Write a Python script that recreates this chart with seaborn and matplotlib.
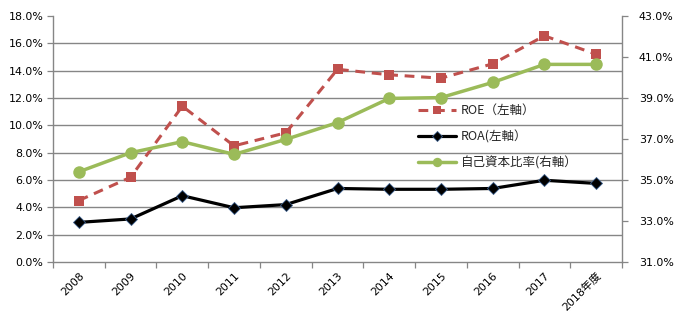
import matplotlib
matplotlib.use("Agg")
import matplotlib.pyplot as plt
import matplotlib.ticker as mticker
import seaborn as sns
import pandas as pd
import numpy as np

years = ["2008", "2009", "2010", "2011", "2012", "2013", "2014", "2015", "2016", "2017", "2018年度"]
roe = [4.5, 6.2, 11.4, 8.5, 9.45, 14.1, 13.7, 13.45, 14.5, 16.55, 15.2]
roa = [2.9, 3.15, 4.85, 3.97, 4.2, 5.38, 5.32, 5.32, 5.38, 5.98, 5.75]
equity = [35.4, 36.33, 36.87, 36.25, 36.98, 37.8, 38.98, 39.02, 39.76, 40.64, 40.64]
left_ticks = [0, 2, 4, 6, 8, 10, 12, 14, 16, 18]
right_ticks = [31, 33, 35, 37, 39, 41, 43]
labels = ["ROE（左軸）", "ROA(左軸）", "自己資本比率(右軸）"]

sns.set_theme(style="white")
plt.rcParams['font.family'] = ['DejaVu Sans', 'Noto Sans CJK JP']

df = pd.DataFrame({"pos": np.arange(len(years)), "roe": roe, "roa": roa, "equity": equity})

fig = plt.figure(figsize=(6.94, 3.30), dpi=100)
ax = fig.add_axes([53/694, 1-262/330, (622-53)/694, (262-16)/330])
ax2 = ax.twinx()

gray = "#868686"
tick_fs = 7.9

sns.lineplot(data=df, x="pos", y="roe", ax=ax, color="#C0504D", linewidth=2.2,
             linestyle=(0, (3.2, 2.2)), marker="s", markersize=7, markeredgewidth=0,
             label=labels[0], zorder=3)
sns.lineplot(data=df, x="pos", y="roa", ax=ax, color="black", linewidth=2.3,
             marker="D", markersize=6.5, markeredgecolor="#3B5E8C", markeredgewidth=0.6,
             label=labels[1], zorder=3)
sns.lineplot(data=df, x="pos", y="equity", ax=ax2, color="#9BBB59", linewidth=2.5,
             marker="o", markersize=9, markeredgewidth=0,
             label=labels[2], zorder=3)

ax.set_xlim(-0.5, len(years) - 0.5)
ax.set_ylim(0, 18)
ax2.set_ylim(31, 43)

ax.set_yticks(left_ticks)
ax.yaxis.set_major_formatter(mticker.FuncFormatter(lambda v, p: f"{v:.1f}%"))
ax2.set_yticks(right_ticks)
ax2.yaxis.set_major_formatter(mticker.FuncFormatter(lambda v, p: f"{v:.1f}%"))

# x ticks: boundaries as major ticks, labels at category centers
ax.set_xticks(np.arange(-0.5, len(years), 1.0))
ax.set_xticklabels([])
ax.set_xticks(np.arange(len(years)), minor=True)
ax.set_xticklabels(years, minor=True, rotation=45, ha="right", rotation_mode="anchor",
                   fontsize=tick_fs, color="#000000",
                   fontfamily=['DejaVu Sans', 'Noto Sans CJK JP'])
ax.tick_params(axis="x", which="major", direction="out", length=4, color=gray, width=0.9, bottom=True)
ax.tick_params(axis="x", which="minor", length=0, pad=6)
ax.tick_params(axis="y", direction="out", length=4, color=gray, width=0.9, left=True,
               labelsize=tick_fs, labelcolor="#000000", pad=3)
ax2.tick_params(axis="y", direction="out", length=4, color=gray, width=0.9, right=True,
                labelsize=tick_fs, labelcolor="#000000", pad=8)

# gridlines
for v in left_ticks[1:-1]:
    ax.axhline(v, color=gray, linewidth=1.0, zorder=0)
ax.set_axisbelow(True)

for a in (ax, ax2):
    a.set_xlabel("")
    a.set_ylabel("")
    a.spines["top"].set_visible(False)
    for s in ("left", "right", "bottom"):
        a.spines[s].set_color(gray)
        a.spines[s].set_linewidth(1.0)
ax.spines["right"].set_visible(False)
ax2.spines["left"].set_visible(False)
ax2.spines["bottom"].set_visible(False)

h1, l1 = ax.get_legend_handles_labels()
h2, l2 = ax2.get_legend_handles_labels()
if ax.get_legend():
    ax.get_legend().remove()
if ax2.get_legend():
    ax2.get_legend().remove()
leg = ax2.legend(h1 + h2, l1 + l2, loc="upper left",
                 bbox_to_anchor=(418/694, 1-104/330), bbox_transform=fig.transFigure,
                 frameon=False, borderpad=0, borderaxespad=0, handlelength=3.0,
                 handletextpad=0.4, labelspacing=1.05, markerscale=0.75,
                 prop={"family": ["Noto Sans CJK JP"], "size": 9})

fig.savefig("out.png", dpi=100)
